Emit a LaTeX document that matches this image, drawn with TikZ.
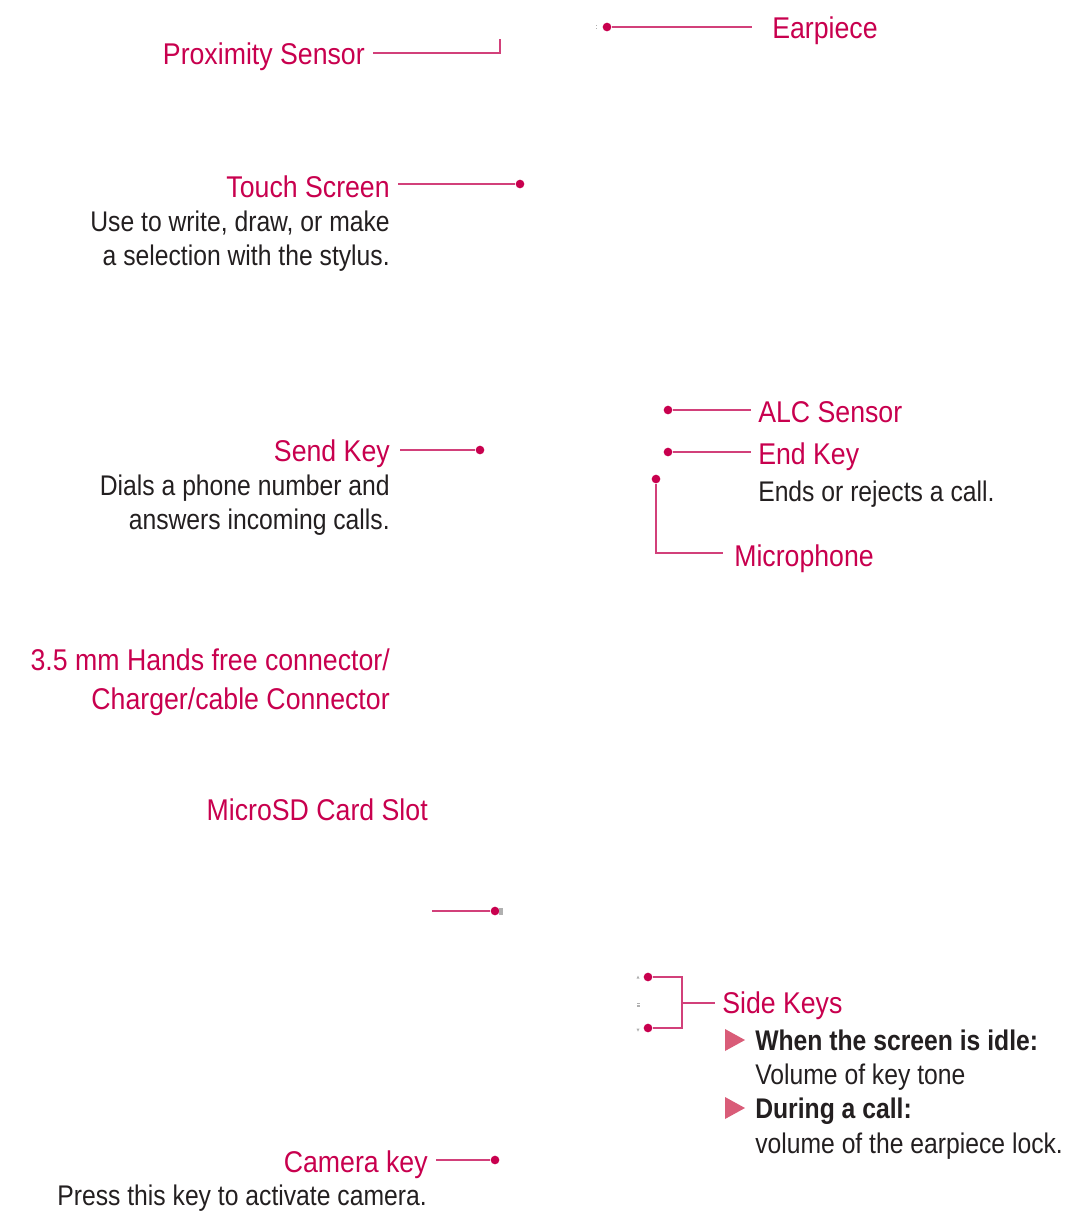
\documentclass[tikz,border=0pt]{standalone}
\usepackage{fontspec}
\setmainfont{Liberation Sans}[FakeStretch=0.89]
\newfontfamily\descfont{Liberation Sans}[FakeStretch=0.87]
\usetikzlibrary{calc}
\definecolor{lgred}{HTML}{C8004E}
\definecolor{lgline}{HTML}{D2407A}
\definecolor{lgtri}{HTML}{D95C78}
\definecolor{lgtext}{HTML}{231F20}
\definecolor{lggray}{HTML}{B0B0B0}
\begin{document}
\begin{tikzpicture}[x=0.75pt,y=-0.75pt,
  redlbl/.style={inner sep=0pt,text=lgred,font=\fontsize{22.5pt}{25.5pt}\selectfont},
  desc/.style={inner sep=0pt,text=lgtext,font=\descfont\fontsize{21.3pt}{25.5pt}\selectfont},
  bdesc/.style={inner sep=0pt,text=lgtext,font=\descfont\fontsize{21.3pt}{25.5pt}\selectfont\bfseries},
  conn/.style={draw=lgline,line width=1.1pt},
  dot/.style={circle,fill=lgred,inner sep=0pt,minimum size=6.5pt},
  tri/.style={fill=lgtri},
  ghost/.style={fill=lggray}]
\useasboundingbox (0,0) rectangle (1074,1211);

% Proximity sensor
\node[redlbl,anchor=base east] (prox) at (365,64) {Proximity Sensor};
\coordinate (proxA) at (373,53);
\coordinate (proxB) at (500,53);
\coordinate (proxC) at (500,39);
\draw[conn] (proxA) -- (proxB) -- (proxC);

% Earpiece
\fill[ghost] (596,25) rectangle (597,26);
\fill[ghost] (596,28) rectangle (597,29);
\node[dot] (earD) at (607,27) {};
\coordinate (earE) at (752,27);
\draw[conn] (earD) -- (earE);
\node[redlbl,anchor=base west] (ear) at (772,38) {Earpiece};

% Touch screen
\node[redlbl,anchor=base east] (ts) at (390,197) {Touch Screen};
\coordinate (tsA) at (398,184);
\node[dot] (tsD) at (520,184) {};
\draw[conn] (tsA) -- (tsD);
\node[desc,anchor=base east] (ts1) at (390,231) {Use to write, draw, or make};
\node[desc,anchor=base east] (ts2) at (390,265) {a selection with the stylus.};

% Send key
\node[redlbl,anchor=base east] (send) at (390,461) {Send Key};
\coordinate (sendA) at (400,450);
\node[dot] (sendD) at (480,450) {};
\draw[conn] (sendA) -- (sendD);
\node[desc,anchor=base east] (send1) at (390,495) {Dials a phone number and};
\node[desc,anchor=base east] (send2) at (390,529) {answers incoming calls.};

% ALC sensor
\node[dot] (alcD) at (668,410) {};
\coordinate (alcE) at (751,410);
\draw[conn] (alcD) -- (alcE);
\node[redlbl,anchor=base west] (alc) at (758,422) {ALC Sensor};

% End key
\node[dot] (endD) at (668,452) {};
\coordinate (endE) at (751,452);
\draw[conn] (endD) -- (endE);
\node[redlbl,anchor=base west] (endk) at (758,464) {End Key};
\node[desc,anchor=base west] (end1) at (758,501) {Ends or rejects a call.};

% Microphone
\node[dot] (micD) at (656,479) {};
\coordinate (micB) at (656,553);
\coordinate (micE) at (723,553);
\draw[conn] (micD) -- (micB) -- (micE);
\node[redlbl,anchor=base west] (mic) at (734,566) {Microphone};

% Hands free connector
\node[redlbl,anchor=base east] (hf1) at (390,670) {3.5 mm Hands free connector/};
\node[redlbl,anchor=base east] (hf2) at (390,709) {Charger/cable Connector};

% MicroSD
\node[redlbl,anchor=base east] (sd) at (428,820) {MicroSD Card Slot};

% unlabeled pointer
\coordinate (ulA) at (432,911);
\node[dot] (ulD) at (495,911) {};
\draw[conn] (ulA) -- (ulD);
\fill[lggray] (499,908) rectangle (503,915);

% Side keys
\fill[ghost] (636.5,978.5) -- (639.5,978.5) -- (638,975.5) -- cycle;
\fill[ghost] (636.5,1003) rectangle (639.5,1003.6);
\fill[ghost] (636.5,1004.6) rectangle (639.5,1005.2);
\fill[ghost] (636.5,1006.2) rectangle (639.5,1006.8);
\fill[ghost] (636.5,1028.5) -- (639.5,1028.5) -- (638,1031.5) -- cycle;
\node[dot] (skD1) at (648,977) {};
\node[dot] (skD2) at (648,1028) {};
\coordinate (skT) at (682,977);
\coordinate (skB) at (682,1028);
\coordinate (skM) at (682,1003);
\coordinate (skE) at (715,1003);
\draw[conn] (skD1) -- (skT) -- (skB) -- (skD2);
\draw[conn] (skM) -- (skE);
\node[redlbl,anchor=base west] (sk) at (722,1013) {Side Keys};
\fill[tri] (725,1029) -- (745,1040) -- (725,1051) -- cycle;
\node[bdesc,anchor=base west] (sk1) at (755,1050) {When the screen is idle:};
\node[desc,anchor=base west] (sk2) at (755,1084) {Volume of key tone};
\fill[tri] (725,1097) -- (745,1108) -- (725,1119) -- cycle;
\node[bdesc,anchor=base west] (sk3) at (755,1118) {During a call:};
\node[desc,anchor=base west] (sk4) at (755,1153) {volume of the earpiece lock.};

% Camera key
\node[redlbl,anchor=base east] (cam) at (428,1172) {Camera key};
\coordinate (camA) at (436,1160);
\node[dot] (camD) at (495,1160) {};
\draw[conn] (camA) -- (camD);
\node[desc,anchor=base east] (cam1) at (427,1205) {Press this key to activate camera.};
\end{tikzpicture}
\end{document}
